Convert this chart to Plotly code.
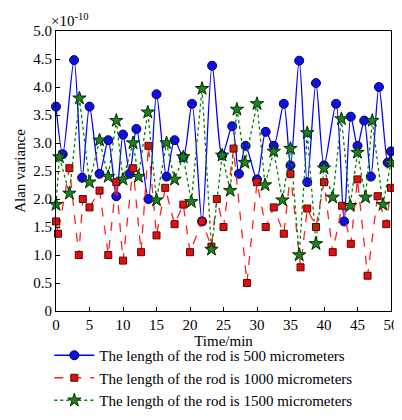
import plotly.graph_objects as go

blue_x = [0,1,2.7,3.9,5,6.5,7.8,9,10,11,12,13.8,15,16.5,17.7,19,20.3,21.8,23.3,24.8,26.3,27.3,28.3,30,31.3,32.5,34,35,36.3,37.5,38.8,40,41.8,43,44,45,46,47,48.2,49.5,50]
blue_y = [3.65,2.8,4.48,2.38,3.65,2.45,3.05,2.05,3.15,2.45,3.25,2.0,3.87,2.4,3.05,2.75,3.7,1.6,4.38,2.78,3.3,2.45,2.95,2.35,3.2,2.95,3.7,2.6,4.47,2.3,4.07,2.6,3.7,1.6,3.47,2.95,3.4,2.4,4.0,2.65,2.85]
red_x = [0,0.3,2,3.4,4,5,6.5,7.8,9,10,11.5,12.7,13.8,15,16.3,17.7,19,20,21.8,23.2,24,25,26.5,28.5,30,31.3,32.5,34,35,36.5,37.5,38.8,40,41.3,42.7,44,45,46.5,48,49.3,50]
red_y = [1.6,1.38,2.55,1.0,2.0,1.85,2.15,1.0,2.3,0.9,2.55,1.05,2.95,1.35,2.2,1.55,1.9,1.05,1.6,1.15,2.0,1.5,2.9,0.5,2.3,1.5,1.85,1.38,2.45,0.78,1.83,1.5,2.3,1.05,1.88,1.2,2.35,0.63,2.05,1.55,2.2]
green_x = [0,0.5,2,3.5,5,6.5,7.8,9,10,11.5,12.3,13.7,15,16.5,17.7,19,20.2,21.8,23.2,24.8,26,27,28.2,30,31.2,32.5,33.8,35,36.3,37.5,38.8,40,41.3,42.6,43.9,45,46.2,47.2,48.8,50]
green_y = [1.9,2.75,2.1,3.8,2.3,3.05,2.4,3.4,2.35,3.0,2.4,3.55,1.98,3.0,2.35,2.75,1.95,3.97,1.1,2.78,2.15,3.6,2.65,3.7,2.25,2.85,1.98,2.9,1.0,3.18,1.2,2.55,2.03,3.43,1.88,2.83,2.03,3.4,1.9,2.65]

x_ticks = list(range(0, 51, 5))
y_ticks = [i * 0.5 for i in range(11)]
y_labels = ["0" if v == 0 else f"{v:.1f}" for v in y_ticks]

names = ["The length of the rod is 500 micrometers",
         "The length of the rod is 1000 micrometers",
         "The length of the rod is 1500 micrometers"]

fig = go.Figure()
fig.add_trace(go.Scatter(x=blue_x, y=blue_y, name=names[0], mode="lines+markers", cliponaxis=False,
    line=dict(color="#0000ff", width=1.3, shape="spline", smoothing=0.8),
    marker=dict(symbol="circle", size=9, color="#1010e0", line=dict(color="#000060", width=1))))
fig.add_trace(go.Scatter(x=red_x, y=red_y, name=names[1], mode="lines+markers", cliponaxis=False,
    line=dict(color="#ff2020", width=1.3, dash="dash"),
    marker=dict(symbol="square", size=7, color="#e01010", line=dict(color="#600000", width=1))))
fig.add_trace(go.Scatter(x=green_x, y=green_y, name=names[2], mode="lines+markers", cliponaxis=False,
    line=dict(color="#008000", width=1.3, dash="dot"),
    marker=dict(symbol="star", size=10, color="#208020", line=dict(color="#003000", width=1))))

axis_common = dict(showgrid=False, zeroline=False, showline=True, linecolor="black", linewidth=1,
                   mirror=True, ticks="inside", ticklen=4, tickcolor="black",
                   tickfont=dict(size=15, color="black"))
fig.update_layout(
    width=402, height=420, paper_bgcolor="white", plot_bgcolor="white",
    font=dict(family="Liberation Serif", color="black", size=15),
    margin=dict(l=47, r=11, t=23, b=104),
    xaxis=dict(range=[0, 50], tickvals=x_ticks, title=dict(text="Time/min", standoff=2, font=dict(size=15)), **axis_common),
    yaxis=dict(range=[0, 5], tickvals=y_ticks, ticktext=y_labels, title=dict(text="Alan variance", standoff=4, font=dict(size=15)), **axis_common),
    legend=dict(x=-0.02, y=-0.1, xanchor="left", yanchor="top", font=dict(size=15),
                bgcolor="rgba(0,0,0,0)", tracegroupgap=0, itemwidth=40),
    showlegend=True,
    annotations=[dict(text="×10<sup>-10</sup>", x=-0.02, y=1, xref="paper", yref="paper",
                      xanchor="left", yanchor="bottom", showarrow=False, font=dict(size=15))],
)
fig.write_html("out.html")
